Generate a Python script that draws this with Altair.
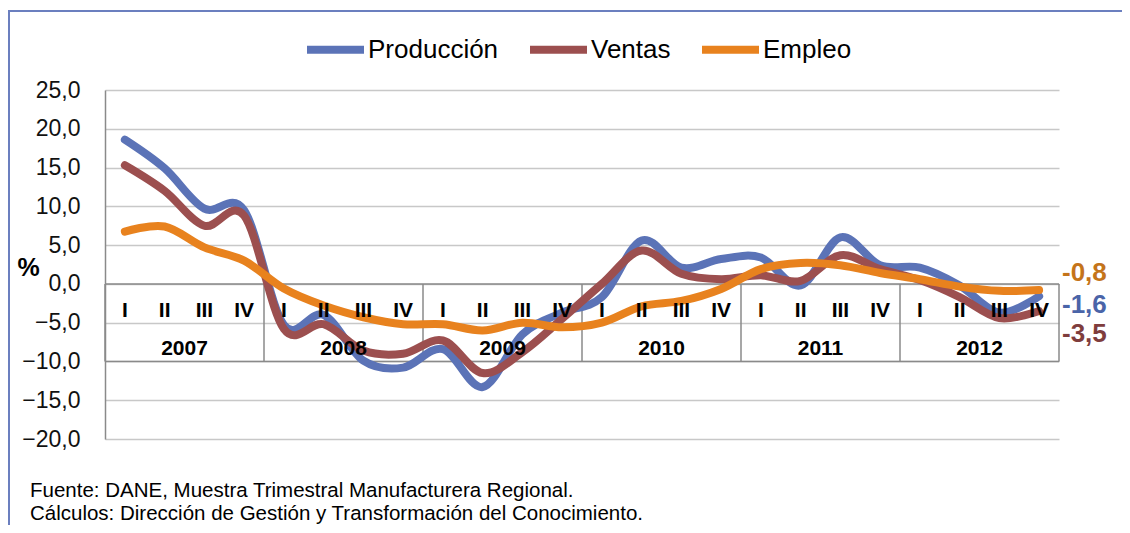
import altair as alt
import pandas as pd

quarters = ["I", "II", "III", "IV"] * 6
years = ["2007", "2008", "2009", "2010", "2011", "2012"]

produccion = [18.6, 14.9, 9.7, 9.5, -5.3, -4.0, -9.9, -10.8, -8.4, -13.3, -6.5, -3.7,
              -1.7, 5.6, 2.1, 3.2, 3.4, -0.2, 6.0, 2.4, 2.1, -0.2, -3.7, -1.6]
ventas = [15.3, 12.0, 7.5, 8.8, -5.8, -5.2, -8.6, -9.0, -7.3, -11.5, -8.8, -4.5,
          0.0, 4.3, 1.3, 0.6, 1.1, 0.4, 3.7, 1.9, 0.5, -1.7, -4.4, -3.5]
empleo = [6.75, 7.4, 4.7, 3.0, -0.6, -2.8, -4.3, -5.2, -5.2, -6.0, -5.0, -5.6,
          -5.0, -2.9, -2.2, -0.65, 1.9, 2.7, 2.4, 1.4, 0.6, -0.35, -0.9, -0.8]

series_names = ["Producción", "Ventas", "Empleo"]
series_colors = ["#5b73b7", "#9c4f4f", "#e8821e"]
end_labels = ["-0,8", "-1,6", "-3,5"]
end_label_colors = ["#c4741a", "#4a64a8", "#7f3d3d"]
notes = ["Fuente: DANE, Muestra Trimestral Manufacturera Regional.",
         "Cálculos: Dirección de Gestión y Transformación del Conocimiento."]

FONT = "Liberation Sans"

rows = []
for name, vals in zip(series_names, [produccion, ventas, empleo]):
    for i, v in enumerate(vals):
        rows.append({"idx": i, "serie": name, "valor": v})
df = pd.DataFrame(rows)

n = len(quarters)
x_scale = alt.Scale(domain=[-0.5, n - 0.5], nice=False, zero=False)
y_scale = alt.Scale(domain=[-20, 25], nice=False, zero=False)
color_scale = alt.Scale(domain=series_names, range=series_colors)

y_axis = alt.Axis(
    values=list(range(-20, 30, 5)),
    labelExpr="replace(format(datum.value, '.1f'), '.', ',')",
    title="%", titleAngle=0, titleX=-77, titleY=177, titleAlign="center",
    titleBaseline="middle", titleFontSize=25, titleFontWeight="bold",
    titleFont=FONT, titleColor="#000",
    ticks=False, labelPadding=25, labelFontSize=23, labelFont=FONT, labelColor="#111",
    grid=True, gridColor="#c8c8c8", gridWidth=1.5,
    domainColor="#8a8a8a", domainWidth=1.5,
)


def ydef(field):
    return alt.Y(field, scale=y_scale, axis=y_axis)


X = alt.X("idx:Q", scale=x_scale, axis=None)

# category-axis box
hl = pd.DataFrame({"x1": [-0.5, -0.5], "x2": [n - 0.5, n - 0.5], "valor": [0, -10]})
h_rules = alt.Chart(hl).mark_rule(color="#8a8a8a", strokeWidth=1.5).encode(
    x=alt.X("x1:Q", scale=x_scale, axis=None), x2="x2:Q", y=ydef("valor:Q"))

vl = pd.DataFrame({"bx": [-0.5 + 4 * k for k in range(len(years) + 1)],
                   "valor": [0] * (len(years) + 1), "v2": [-10] * (len(years) + 1)})
v_rules = alt.Chart(vl).mark_rule(color="#8a8a8a", strokeWidth=1.5).encode(
    x=alt.X("bx:Q", scale=x_scale, axis=None), y=ydef("valor:Q"), y2="v2:Q")

ql = pd.DataFrame({"idx": list(range(n)), "q": quarters})
q_text = alt.Chart(ql).mark_text(font=FONT, fontSize=21, fontWeight="bold",
                                 baseline="middle", color="#000").encode(
    x=X, y=alt.YDatum(-3.45, scale=y_scale, axis=y_axis), text="q:N")

yl = pd.DataFrame({"idx": [4 * k + 1.5 for k in range(len(years))], "yr": years})
y_text = alt.Chart(yl).mark_text(font=FONT, fontSize=21, fontWeight="bold",
                                 baseline="middle", color="#000").encode(
    x=X, y=alt.YDatum(-8.4, scale=y_scale, axis=y_axis), text="yr:N")

legend = alt.Legend(
    orient="none", legendX=198, legendY=-73, direction="horizontal", title=None,
    symbolType="stroke", symbolStrokeWidth=8, symbolSize=3249,
    labelFontSize=26, labelFont=FONT, labelColor="#000", labelOffset=0,
    columnPadding=15, padding=0,
)


def line_layer(name):
    return alt.Chart(df).transform_filter(alt.datum.serie == name).mark_line(
        interpolate="cardinal", strokeWidth=8, strokeCap="round", strokeJoin="round"
    ).encode(
        x=X, y=ydef("valor:Q"),
        color=alt.Color("serie:N", scale=color_scale, legend=legend),
    )


lines = [line_layer(s) for s in series_names]

end_ys = [183, 215, 244]
end_layers = []
for lab, col, yy in zip(end_labels, end_label_colors, end_ys):
    end_layers.append(
        alt.Chart(alt.Data(values=[{"t": lab}])).mark_text(
            font=FONT, fontSize=26, fontWeight="bold", align="left",
            baseline="middle", color=col
        ).encode(x=alt.value(957), y=alt.value(yy), text="t:N")
    )

note_layers = []
for k, t in enumerate(notes):
    note_layers.append(
        alt.Chart(alt.Data(values=[{"t": t}])).mark_text(
            font=FONT, fontSize=20.5, align="left", baseline="middle", color="#000"
        ).encode(x=alt.value(-75), y=alt.value(401 + 23 * k), text="t:N")
    )

frame = alt.Chart(alt.Data(values=[{"a": 1}])).mark_rect(
    fillOpacity=0, stroke="#6b7fbf", strokeWidth=2
).encode(x=alt.value(-96), x2=alt.value(1300), y=alt.value(-79), y2=alt.value(700))

chart = alt.layer(
    frame, h_rules, v_rules, *lines, q_text, y_text, *end_layers, *note_layers
).properties(
    width=954, height=349,
    padding={"left": 97, "top": 82, "right": 63, "bottom": 86},
    autosize=alt.AutoSizeParams(type="none"),
    background="white",
).configure_view(stroke=None)

chart.save("out.html", embed_options={"renderer": "svg", "actions": False})
